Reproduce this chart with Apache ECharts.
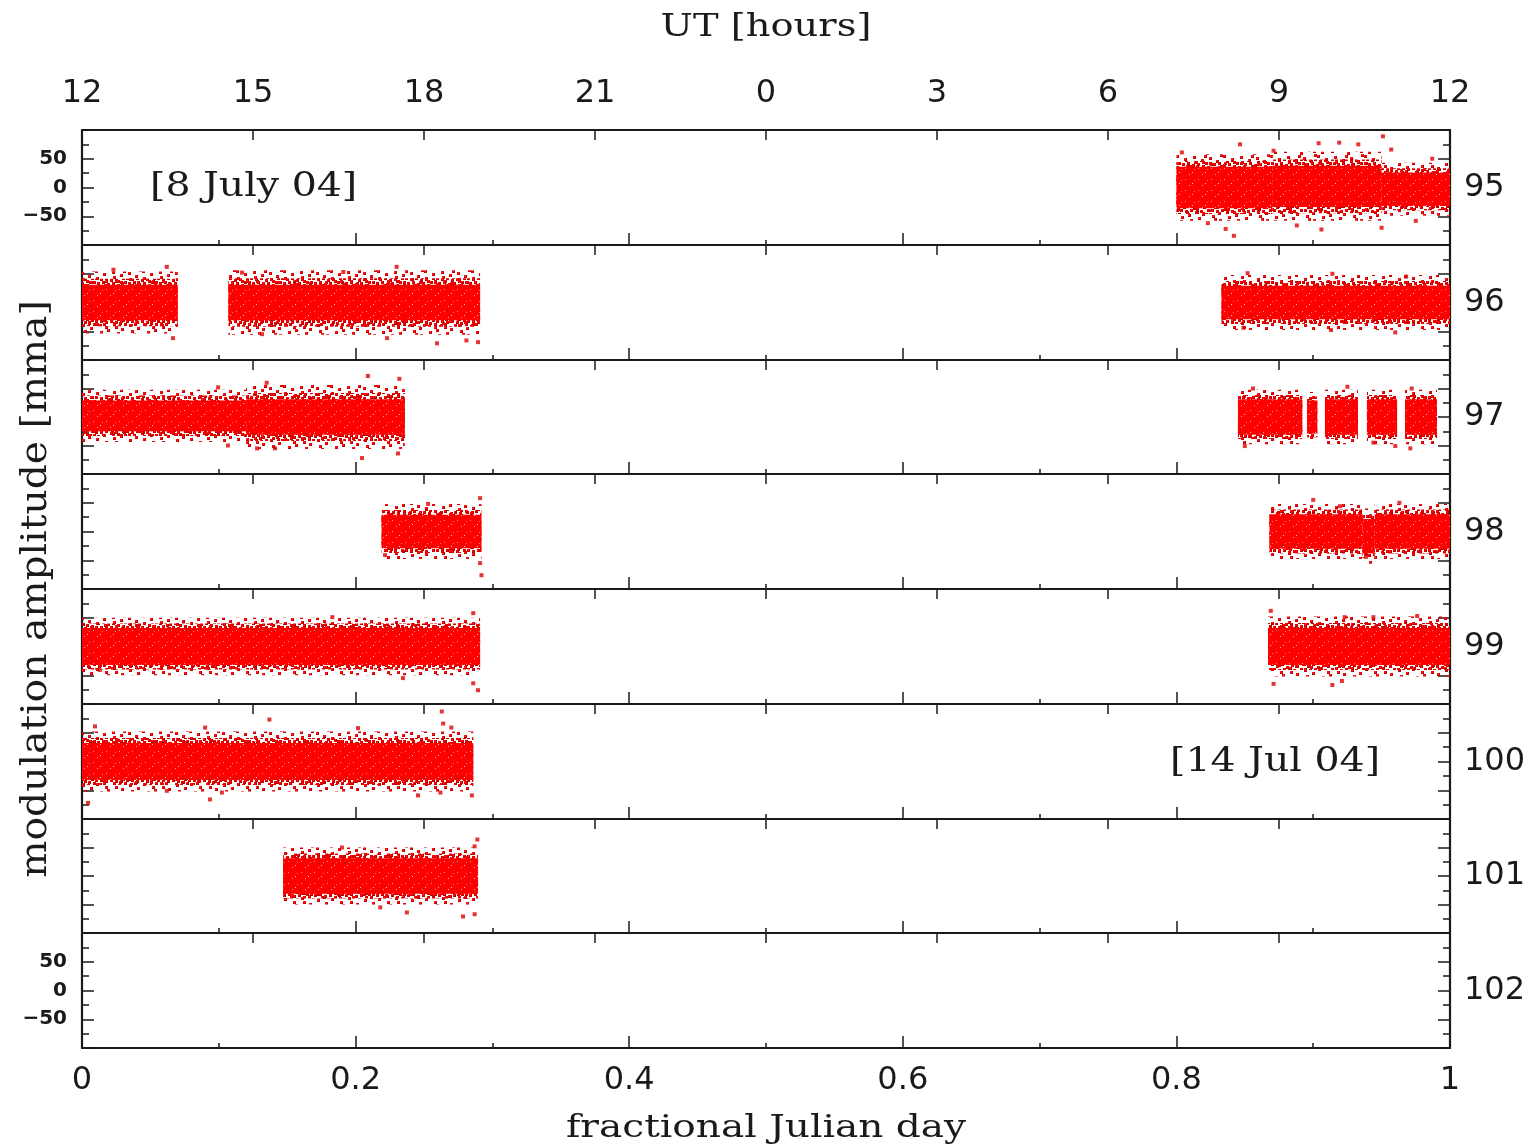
<!DOCTYPE html>
<html><head><meta charset="utf-8">
<script src="https://cdn.jsdelivr.net/npm/echarts@6/dist/echarts.min.js"></script>
<style>html,body{margin:0;padding:0;background:#fff}#c{width:1536px;height:1148px}</style>
</head><body><div id="c"></div>
<script>
// ---------------- data ----------------
const panelLabels = ['95', '96', '97', '98', '99', '100', '101', '102'];
const utTickLabels = ['12', '15', '18', '21', '0', '3', '6', '9', '12'];
const dayTickValues = [0, 0.2, 0.4, 0.6, 0.8, 1];
const dateNotes = ['[8 July 04]', '[14 Jul 04]'];

// observing runs: panel index, start / end (fractional Julian day),
// band centre, half width of the dense core, half width of the scattered envelope (mma)
const segPanel  = [0, 0, 0,   1, 1, 1,   2, 2, 2, 2, 2, 2, 2,   3, 3, 3, 3,   4, 4,   5,   6];
const segStart  = [0.800, 0.870, 0.950,  0.000, 0.107, 0.833,  0.000, 0.120, 0.845, 0.8955, 0.9086, 0.9393, 0.9671,  0.219, 0.868, 0.936, 0.945,  0.000, 0.867,  0.000,  0.147];
const segEnd    = [0.870, 0.950, 1.000,  0.070, 0.291, 1.000,  0.120, 0.236, 0.892, 0.9030, 0.9327, 0.9613, 0.9905,  0.292, 0.936, 0.945, 1.000,  0.291, 1.000,  0.286,  0.2895];
const segCentre = [0, 2, -3,   0, 0, 0,   2, 0, 0, 0, 0, 0, 0,   0, 0, -8, 0,   0, 0,   0,   0];
const segCore   = [36, 36, 29,  31, 31, 29,  27, 31, 31, 29, 31, 31, 31,  29, 30, 30, 30,  32, 32,  32,  31];
const segOuter  = [58, 60, 46,  54, 56, 48,  46, 56, 48, 44, 48, 48, 48,  48, 48, 48, 48,  50, 52,  52,  50];

// isolated points outside the dense bands [fractional day, mma]
const outliers95  = [[0.8465, 75], [0.904, 77], [0.919, 78], [0.933, 75], [0.951, 89], [0.957, 66], [0.842, -84], [0.836, -72], [0.906, -73], [0.950, -70], [0.888, -66], [0.804, 61], [0.987, 50], [0.871, 64], [0.823, -62], [0.975, -58]];
const outliers96  = [[0.023, 57], [0.062, 62], [0.0665, -62], [0.230, 62], [0.2595, -71], [0.2895, -69], [0.281, -66], [0.223, -62], [0.1316, -55], [0.117, 52], [0.191, 53], [0.852, 51], [0.914, 50], [0.968, 45], [0.913, -48], [0.960, -52], [0.849, -44]];
const outliers97  = [[0.209, 72], [0.232, 67], [0.135, 60], [0.0995, 52], [0.2047, -72], [0.1067, -50], [0.141, -55], [0.128, -55], [0.231, -64], [0.856, 50], [0.925, 53], [0.972, 50], [0.850, -51], [0.971, -55], [0.960, -51], [0.944, -45]];
const outliers98  = [[0.291, 58], [0.253, 48], [0.292, -76], [0.291, -55], [0.2215, -41], [0.900, 55], [0.9196, 44], [0.963, 50], [0.9386, -44]];
const outliers99  = [[0.183, 51], [0.286, 58], [0.286, -64], [0.2895, -76], [0.2346, -55], [0.013, -41], [0.869, 62], [0.871, -65], [0.914, -67], [0.921, -60], [0.923, 51], [0.944, 51], [0.976, 53]];
const outliers100 = [[0.263, 87], [0.264, 66], [0.270, 59], [0.137, 73], [0.2018, 58], [0.090, 59], [0.0095, 61], [0.0936, -66], [0.1023, -54], [0.062, -51], [0.2456, -59], [0.262, -54], [0.285, -59], [0.0044, -72]];
const outliers101 = [[0.289, 64], [0.287, 52], [0.190, 50], [0.2375, -64], [0.218, -55], [0.2785, -71], [0.287, -67]];
const outliers102 = [];
const outlierSets = [outliers95, outliers96, outliers97, outliers98, outliers99, outliers100, outliers101, outliers102];

// ---------------- styling helpers ----------------
function tile(w, h, bg, dots, dotColor, specks) {
  const cv = document.createElement('canvas');
  cv.width = w; cv.height = h;
  const g = cv.getContext('2d');
  if (bg) { g.fillStyle = bg; g.fillRect(0, 0, w, h); }
  dots.forEach(([x, y]) => {
    for (const dx of [0, w, -w]) for (const dy of [0, h, -h]) {
      g.fillStyle = '#c80000'; g.fillRect(x + dx, y + dy, 3, 3);
      g.fillStyle = dotColor; g.fillRect(x + dx, y + dy, 2, 2);
    }
  });
  (specks || []).forEach(([x, y, c]) => { g.fillStyle = c; g.fillRect(x, y, 1, 1); });
  return { image: cv, repeat: 'repeat' };
}
const sparseFill = tile(47, 23, null,
  [[2, 1], [11, 4], [19, 0], [27, 6], [35, 2], [43, 5], [6, 9], [15, 12], [23, 10], [31, 14], [39, 11], [45, 16],
   [1, 17], [9, 20], [18, 18], [26, 21], [34, 19], [41, 22], [13, 7], [29, 17], [5, 13], [21, 4], [37, 8], [44, 12]], '#ff1010');
const denseFill = tile(31, 17, null,
  [[0, 0], [5, 2], [10, 0], [15, 3], [20, 1], [25, 2], [29, 5], [2, 5], [7, 6], [12, 5], [17, 7], [22, 6], [27, 9],
   [0, 9], [4, 10], [9, 9], [14, 11], [19, 10], [24, 12], [29, 13], [2, 14], [7, 14], [12, 15], [17, 14], [22, 15],
   [26, 16], [11, 12], [6, 1], [18, 4], [24, 8]], '#ff0000');
const coreFill = tile(13, 11, '#ff0000', [], '#ff0000',
  [[2, 3, '#ff9090'], [9, 7, '#ffc0c0'], [5, 1, '#c00000'], [1, 8, '#d40000'], [11, 4, '#ff7070'], [6, 9, '#ffa0a0'], [7, 5, '#cc0000']]);

// ---------------- layout ----------------
const L = 82, W = 1368, T0 = 130, PH = 114.75;
const tops = [];
for (let i = 0; i <= 8; i++) tops.push(Math.round(T0 + i * PH));
const ink = '#1a1a1a';
const digitFont = '"DejaVu Sans", sans-serif';
const serif = '"DejaVu Serif", serif';

const grid = [], xAxis = [], yAxis = [], series = [];
for (let i = 0; i < 8; i++) {
  grid.push({ left: L, width: W, top: tops[i], height: tops[i + 1] - tops[i], containLabel: false, outerBoundsMode: 'none' });
  // bottom: fractional day
  xAxis.push({
    type: 'value', gridIndex: i, position: 'bottom', min: 0, max: 1, interval: 0.2,
    axisLine: { show: true, onZero: false, lineStyle: { color: ink, width: 2.2 } },
    axisTick: { show: true, inside: true, length: 12, lineStyle: { color: ink, width: 1.5 } },
    minorTick: { show: true, splitNumber: 2, length: 5, lineStyle: { color: ink, width: 1.5 } },
    splitLine: { show: false }, minorSplitLine: { show: false },
    axisLabel: {
      show: i === 7, margin: 17, color: ink, fontSize: 32, fontFamily: digitFont,
      showMinLabel: true, showMaxLabel: true,
      formatter: v => { const k = dayTickValues.findIndex(d => Math.abs(d - v) < 1e-6); return k < 0 ? '' : String(dayTickValues[k]); }
    }
  });
  // top: UT hours
  xAxis.push({
    type: 'value', gridIndex: i, position: 'top', min: 0, max: 1, interval: 0.125,
    axisLine: { show: true, onZero: false, lineStyle: { color: ink, width: 2.2 } },
    axisTick: { show: true, inside: true, length: 10, lineStyle: { color: ink, width: 1.5 } },
    splitLine: { show: false },
    axisLabel: {
      show: i === 0, margin: 20, color: ink, fontSize: 32, fontFamily: digitFont,
      showMinLabel: true, showMaxLabel: true,
      formatter: v => utTickLabels[Math.round(v / 0.125)] || ''
    }
  });
  const yCommon = {
    type: 'value', gridIndex: i, min: -100, max: 100, interval: 50,
    axisLine: { show: true, onZero: false, lineStyle: { color: ink, width: 2.2 } },
    axisTick: { show: true, inside: true, length: 12, lineStyle: { color: ink, width: 1.5 } },
    minorTick: { show: true, splitNumber: 2, length: 7, lineStyle: { color: ink, width: 1.5 } },
    splitLine: { show: false }, minorSplitLine: { show: false }
  };
  yAxis.push(Object.assign({}, yCommon, {
    position: 'left',
    axisLabel: {
      show: i === 0 || i === 7, margin: 15, color: ink, fontSize: 20, fontWeight: 'bold', fontFamily: digitFont,
      formatter: v => (Math.abs(v) >= 100 ? '' : v < 0 ? '\u2212' + (-v) : String(v))
    }
  }));
  yAxis.push(Object.assign({}, yCommon, {
    position: 'right', axisLabel: { show: false },
    name: panelLabels[i], nameLocation: 'middle', nameRotate: 0, nameGap: 14,
    nameTextStyle: { color: ink, fontSize: 32, fontFamily: digitFont, align: 'left', verticalAlign: 'middle' }
  }));

  const segData = [];
  segPanel.forEach((p, k) => { if (p === i) segData.push([segStart[k], segEnd[k], segCentre[k], segCore[k], segOuter[k]]); });
  series.push({
    type: 'custom', xAxisIndex: 2 * i, yAxisIndex: 2 * i, clip: true, silent: true,
    data: segData,
    renderItem: (params, api) => {
      const x0 = api.value(0), x1 = api.value(1), c = api.value(2), core = api.value(3), outer = api.value(4);
      const mid = core + (outer - core) * 0.45;
      const band = h => {
        const a = api.coord([x0, c + h]), b = api.coord([x1, c - h]);
        return { x: a[0], y: a[1], width: b[0] - a[0], height: b[1] - a[1] };
      };
      return {
        type: 'group', children: [
          { type: 'rect', shape: band(outer), style: { fill: sparseFill } },
          { type: 'rect', shape: band(mid), style: { fill: denseFill } },
          { type: 'rect', shape: band(core), style: { fill: coreFill } }
        ]
      };
    }
  });
  series.push({
    type: 'scatter', xAxisIndex: 2 * i, yAxisIndex: 2 * i, silent: true,
    symbol: 'rect', symbolSize: 4, itemStyle: { color: '#e00000' },
    data: outlierSets[i]
  });
}

const graphic = [
  { type: 'text', x: L + W / 2, y: 28, scaleX: 1.2, style: { text: 'UT [hours]', font: '32px ' + serif, fill: ink, textAlign: 'center', textVerticalAlign: 'middle' } },
  { type: 'text', x: L + W / 2, y: 1129, scaleX: 1.22, style: { text: 'fractional Julian day', font: '32px ' + serif, fill: ink, textAlign: 'center', textVerticalAlign: 'middle' } },
  { type: 'text', x: 37, y: (tops[0] + tops[8]) / 2, rotation: Math.PI / 2, scaleX: 1.12, style: { text: 'modulation amplitude [mma]', font: '35px ' + serif, fill: ink, textAlign: 'center', textVerticalAlign: 'middle' } },
  { type: 'text', x: 150, y: 187, scaleX: 1.16, style: { text: dateNotes[0], font: '34px ' + serif, fill: ink, textAlign: 'left', textVerticalAlign: 'middle' } },
  { type: 'text', x: 1170, y: 762, scaleX: 1.16, style: { text: dateNotes[1], font: '34px ' + serif, fill: ink, textAlign: 'left', textVerticalAlign: 'middle' } }
];

const chart = echarts.init(document.getElementById('c'), null, { renderer: 'canvas' });
chart.setOption({ animation: false, backgroundColor: '#fff', grid, xAxis, yAxis, series, graphic });
</script>
</body></html>
